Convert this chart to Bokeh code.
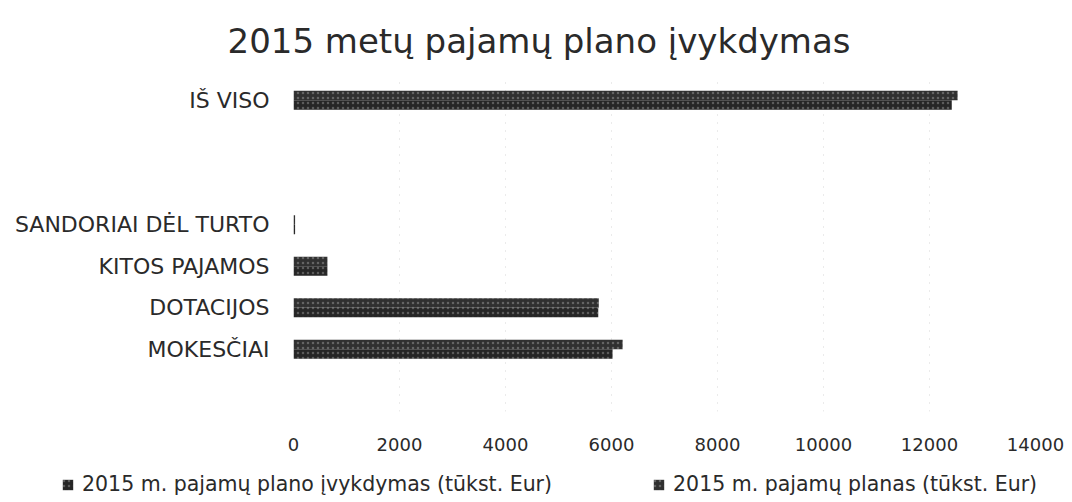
from bokeh.plotting import figure
from bokeh.layouts import column
from bokeh.models import FactorRange, Range1d, FixedTicker, Legend, LegendItem, ColumnDataSource
from bokeh.transform import dodge
from bokeh.embed import file_html
from bokeh.resources import INLINE

# ---- data ----
chart_title = "2015 metų pajamų plano įvykdymas"
axis_factors = [" ", "MOKESČIAI", "DOTACIJOS", "KITOS PAJAMOS", "SANDORIAI DĖL TURTO", "  ", "   ", "IŠ VISO"]
bar_categories = ["MOKESČIAI", "DOTACIJOS", "KITOS PAJAMOS", "SANDORIAI DĖL TURTO", "IŠ VISO"]
plan_execution = [6020, 5750, 640, 30, 12420]   # 2015 m. pajamų plano įvykdymas (tūkst. Eur)
plan = [6210, 5760, 640, 30, 12530]             # 2015 m. pajamų planas (tūkst. Eur)
series_labels = ["2015 m. pajamų plano įvykdymas (tūkst. Eur)", "2015 m. pajamų planas (tūkst. Eur)"]
x_ticks = [0, 2000, 4000, 6000, 8000, 10000, 12000, 14000]

FONT = "DejaVu Sans"
EXEC_STYLE = dict(fill_color="#262626", line_color=None,
                  hatch_pattern="dot", hatch_color="white", hatch_alpha=0.25, hatch_scale=5)
PLAN_STYLE = dict(fill_color="#303030", line_color=None,
                  hatch_pattern="dot", hatch_color="white", hatch_alpha=0.25, hatch_scale=5)

src = ColumnDataSource(dict(cat=bar_categories, execu=plan_execution, plan=plan))

p = figure(
    y_range=FactorRange(*axis_factors),
    x_range=Range1d(0, 14000),
    frame_width=742, frame_height=332,
    min_border_left=293, min_border_right=34, min_border_top=79, min_border_bottom=49,
    output_backend="svg", toolbar_location=None,
    background_fill_color="white", border_fill_color="white",
)
p.outline_line_color = None

p.title.text = chart_title
p.title.text_font = FONT
p.title.text_font_size = "34px"
p.title.text_font_style = "normal"
p.title.text_color = "#2a2a2a"
p.title.align = "left"
p.title.offset = -66
p.title.standoff = 37

p.hbar(y=dodge("cat", -0.115, range=p.y_range), right="execu", left=0, height=0.23,
       source=src, **EXEC_STYLE)
p.hbar(y=dodge("cat", 0.115, range=p.y_range), right="plan", left=0, height=0.23,
       source=src, **PLAN_STYLE)

# axes
p.xaxis.ticker = FixedTicker(ticks=x_ticks)
p.xaxis.axis_line_color = None
p.xaxis.major_tick_line_color = None
p.xaxis.minor_tick_line_color = None
p.xaxis.major_label_standoff = 20
p.xaxis.major_label_text_font = FONT
p.xaxis.major_label_text_font_size = "18px"
p.xaxis.major_label_text_color = "#2a2a2a"

p.yaxis.axis_line_color = None
p.yaxis.major_tick_line_color = None
p.yaxis.minor_tick_line_color = None
p.yaxis.major_label_standoff = 18
p.yaxis.major_label_text_font = FONT
p.yaxis.major_label_text_font_size = "22px"
p.yaxis.major_label_text_color = "#2a2a2a"

p.ygrid.grid_line_color = None
p.xgrid.grid_line_color = "#bdbdbd"
p.xgrid.grid_line_dash = "1 7"
p.xgrid.grid_line_alpha = 0.6

# legend strip (separate figure below the chart); its bars fall outside its x range
lf = figure(width=1069, height=40, min_border=0, x_axis_type=None, y_axis_type=None,
            output_backend="svg", toolbar_location=None,
            x_range=Range1d(-2, -1), y_range=FactorRange(*axis_factors))
if "frame_align" in lf.properties():
    lf.frame_align = False
lf.outline_line_color = None
lf.grid.grid_line_color = None
le = lf.hbar(y="cat", right="execu", left=0, height=0.23, source=src, **EXEC_STYLE)
lp = lf.hbar(y="cat", right="plan", left=0, height=0.23, source=src, **PLAN_STYLE)

legend = Legend(
    items=[LegendItem(label=series_labels[0], renderers=[le]),
           LegendItem(label=series_labels[1], renderers=[lp])],
    orientation="horizontal", location=(61, 4),
    label_text_font=FONT, label_text_font_size="20.5px", label_text_color="#2a2a2a",
    glyph_width=13, glyph_height=13, label_standoff=8, spacing=100,
    padding=4, margin=0, border_line_color=None, background_fill_alpha=0,
)
lf.add_layout(legend, "center")

open("out.html", "w").write(file_html(column(p, lf), INLINE))
